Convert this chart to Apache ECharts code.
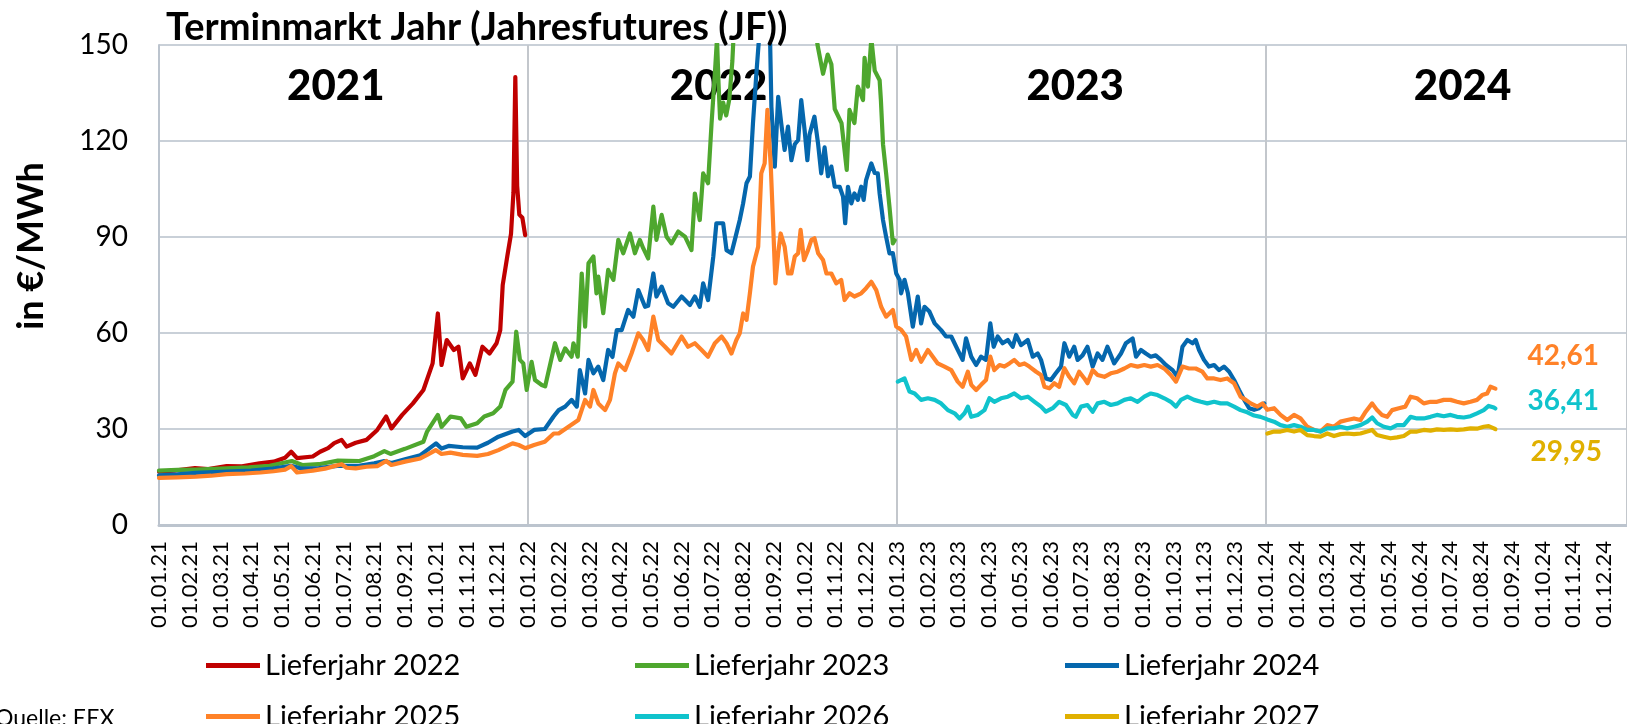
<!DOCTYPE html>
<html><head><meta charset="utf-8">
<script src="https://cdn.jsdelivr.net/npm/echarts@6/dist/echarts.min.js"></script>
<style>html,body{margin:0;padding:0;background:#fff}#c{width:1627px;height:724px}</style>
</head><body><div id="c"></div>
<script>
// ---- tick labels / categories ----
const years = ['2021', '2022', '2023', '2024'];
const monthNums = ['01','02','03','04','05','06','07','08','09','10','11','12'];
const xTickLabels = [];
years.forEach(y => monthNums.forEach(m => xTickLabels.push('01.' + m + '.' + y.slice(2))));
const seriesNames = ['Lieferjahr 2022','Lieferjahr 2023','Lieferjahr 2024','Lieferjahr 2025','Lieferjahr 2026','Lieferjahr 2027'];

// ---- data: [months since 01.01.2021, EUR/MWh] ----
const lj2022 = [[0,16.7],[0.5,17.0],[1.17,17.8],[1.6,17.5],[2.2,18.4],[2.7,18.3],[3.27,19.3],[3.73,19.8],[4.1,21.0],[4.3,22.9],[4.49,20.9],[5.0,21.4],[5.24,22.9],[5.5,24.0],[5.7,25.6],[5.94,26.6],[6.1,24.5],[6.4,25.7],[6.75,26.6],[7.1,29.7],[7.39,33.9],[7.56,30.2],[7.91,34.4],[8.26,38.0],[8.6,42.2],[8.9,50.5],[9.07,66.1],[9.19,50],[9.36,57.8],[9.59,54.7],[9.74,55.7],[9.88,45.8],[10.11,50.5],[10.29,46.9],[10.52,55.7],[10.75,53.6],[10.98,56.8],[11.1,60.9],[11.18,75],[11.33,84],[11.45,91],[11.53,104],[11.59,140],[11.65,106],[11.72,97],[11.82,96],[11.91,90.6]];
const lj2023 = [[0,17.0],[0.6,17.2],[1.2,17.3],[2.0,17.6],[2.92,18.0],[3.6,18.5],[4.32,20.0],[4.66,18.75],[5.2,19.0],[5.82,20.1],[6.52,20.0],[7.0,21.5],[7.33,23.1],[7.53,22.2],[8.0,23.8],[8.6,26.0],[8.72,29.2],[9.07,34.4],[9.19,30.7],[9.48,33.9],[9.82,33.3],[10.0,30.7],[10.35,31.8],[10.58,33.9],[10.87,34.9],[11.1,37.0],[11.27,42.2],[11.5,44.8],[11.62,60.4],[11.74,51.6],[11.85,50.5],[11.96,42.2],[12.12,51],[12.23,45.3],[12.45,43.75],[12.56,43.3],[12.88,56.8],[13.05,51.6],[13.21,55.2],[13.42,52.6],[13.48,56.8],[13.62,52.6],[13.75,78.6],[13.86,62],[13.97,81.8],[14.13,83.9],[14.23,72.4],[14.29,77.6],[14.45,66.2],[14.61,79.7],[14.78,76.6],[14.94,89.1],[15.1,84.9],[15.32,91.1],[15.48,84.9],[15.64,89.1],[15.75,86.5],[15.91,83.3],[16.08,99.5],[16.18,89.1],[16.35,96.9],[16.51,90.1],[16.67,88],[16.89,91.7],[17.11,90.1],[17.32,85.9],[17.43,103.6],[17.59,95.3],[17.7,109.9],[17.86,106.8],[17.97,125],[18.08,141],[18.15,152],[18.2,138],[18.25,127],[18.35,132],[18.45,128],[18.55,133],[18.65,145],[18.75,165],[19.0,220],[19.4,210],[19.8,190],[20.2,200],[20.6,185],[21.0,175],[21.3,160],[21.42,150],[21.6,141],[21.75,147],[21.87,144],[21.98,130],[22.2,125.6],[22.37,111],[22.46,129.7],[22.62,125.6],[22.73,137],[22.9,132.8],[22.95,146],[23.06,137],[23.17,152],[23.28,142],[23.44,139],[23.48,133],[23.55,119],[23.65,110],[23.76,99.5],[23.87,88],[23.93,89]];
const lj2024 = [[0,15.5],[0.6,15.8],[1.2,16.3],[2.0,16.6],[3.0,17.0],[3.7,17.6],[4.3,18.5],[4.66,17.6],[5.2,17.8],[5.8,18.5],[6.5,18.5],[7.0,19.3],[7.33,20.0],[7.56,19.4],[8.0,20.5],[8.5,21.8],[8.72,23.4],[9.01,25.5],[9.19,23.9],[9.42,24.7],[9.88,24.3],[10.35,24.2],[10.7,25.7],[11.04,27.6],[11.5,29.2],[11.7,29.7],[11.91,27.8],[12.2,29.7],[12.55,30.0],[12.84,34],[13.0,35.9],[13.21,37],[13.42,39.1],[13.59,37],[13.69,48.4],[13.86,41.1],[13.97,51.6],[14.13,47.4],[14.29,49.5],[14.45,45.3],[14.61,54.7],[14.75,52.5],[14.89,60.9],[15.05,60.9],[15.26,67.2],[15.43,65.1],[15.59,73.4],[15.81,68.2],[15.91,68.5],[16.08,78.6],[16.18,71.4],[16.35,74.5],[16.56,69.3],[16.73,68.2],[17.0,71.4],[17.27,68.75],[17.43,71.4],[17.59,68.2],[17.7,75.5],[17.86,70.3],[18.03,83.9],[18.13,94.3],[18.35,94.3],[18.46,85.9],[18.62,84.9],[18.73,89.1],[18.89,95.3],[19.0,100.5],[19.11,106.8],[19.22,108.9],[19.32,125.5],[19.43,141],[19.54,155],[19.7,175],[19.87,155],[19.92,130.7],[20.03,112],[20.14,133.8],[20.24,125.5],[20.35,117.2],[20.46,124.5],[20.57,114],[20.68,119],[20.79,120.3],[20.89,132.8],[21.0,123.4],[21.09,114],[21.16,122],[21.32,127.6],[21.44,119],[21.54,109.9],[21.65,118],[21.76,109],[21.87,112],[21.98,105.7],[22.14,105.7],[22.25,102.6],[22.32,94.3],[22.41,105.7],[22.52,100.5],[22.62,103.6],[22.73,101.6],[22.84,105.7],[22.92,101.6],[23.0,107.8],[23.17,113],[23.28,110],[23.38,109.9],[23.44,103.6],[23.55,95.3],[23.65,90.1],[23.76,84.9],[23.87,85],[23.98,78.6],[24.09,76.6],[24.14,72.4],[24.25,76.6],[24.36,72.4],[24.52,62],[24.68,71.4],[24.79,63],[24.9,68.2],[25.06,66.7],[25.23,63],[25.44,60.9],[25.6,58.9],[25.77,58.9],[25.98,54.7],[26.14,51.6],[26.25,58.3],[26.42,52.6],[26.58,50],[26.74,52.6],[26.9,51.6],[27.04,63],[27.15,55.7],[27.28,58.9],[27.44,56.8],[27.61,57.8],[27.77,55.7],[27.88,59.4],[28.04,56.2],[28.26,57.8],[28.42,52.6],[28.58,53.6],[28.69,51.6],[28.85,45.8],[29.01,45.3],[29.17,47.4],[29.34,49.5],[29.45,56.8],[29.61,52.6],[29.77,55.7],[29.88,51.6],[30.04,53],[30.2,55.7],[30.37,49.5],[30.53,53.6],[30.69,51.6],[30.85,55.7],[31.07,50.5],[31.29,53.6],[31.45,56.8],[31.67,58.3],[31.78,52.6],[31.94,54.7],[32.1,53.6],[32.26,52.6],[32.42,53],[32.59,51.6],[32.75,50],[32.97,48.4],[33.13,46.3],[33.29,55.7],[33.45,57.8],[33.62,56.8],[33.72,57.8],[33.83,54.7],[33.99,51.6],[34.15,49.5],[34.32,50],[34.48,48.4],[34.64,49.5],[34.81,47.9],[34.97,45.3],[35.13,42.2],[35.3,39.1],[35.46,36.5],[35.62,36],[35.78,36.5],[35.95,38]];
const lj2025 = [[0,14.7],[0.6,14.9],[1.2,15.1],[1.7,15.4],[2.2,15.9],[2.8,16.1],[3.3,16.4],[3.73,16.8],[4.1,17.3],[4.3,18.4],[4.49,16.4],[5.0,17.0],[5.4,17.6],[5.7,18.4],[5.94,19.0],[6.1,17.9],[6.4,17.7],[6.75,18.2],[7.1,18.4],[7.39,20.0],[7.56,18.75],[8.0,19.8],[8.5,20.8],[8.72,21.9],[9.0,23.4],[9.19,22.2],[9.48,22.6],[9.88,21.9],[10.35,21.6],[10.7,22.2],[11.04,23.4],[11.5,25.5],[11.7,25],[11.91,24],[12.2,25],[12.55,26],[12.84,28.6],[13.0,28.6],[13.32,30.7],[13.64,32.8],[13.86,39.1],[14.02,37],[14.13,42.2],[14.29,38],[14.51,35.9],[14.67,39.1],[14.83,47.4],[14.94,50.5],[15.16,48.4],[15.37,53.6],[15.59,59.9],[15.75,57.8],[15.91,54.7],[16.08,65.1],[16.24,57.8],[16.46,55.7],[16.67,53.6],[17.0,58.9],[17.21,55.7],[17.43,56.8],[17.65,54.7],[17.86,52.6],[18.08,56.8],[18.3,58.9],[18.46,56.8],[18.62,53.6],[18.78,57.8],[18.89,59.9],[19.0,66.1],[19.11,64.1],[19.22,72.4],[19.32,80.7],[19.49,87],[19.59,109.9],[19.7,113],[19.79,129.7],[19.9,112],[19.97,95.3],[20.05,75.5],[20.14,84.9],[20.22,91.1],[20.35,87],[20.46,78.6],[20.57,78.6],[20.68,83.9],[20.79,84.9],[20.87,92.2],[20.98,82.8],[21.11,85.9],[21.22,89.1],[21.32,89.6],[21.44,84.9],[21.6,82.8],[21.71,78.6],[21.87,78.6],[22.03,75.5],[22.19,76.6],[22.3,70.3],[22.46,72.4],[22.62,71.4],[22.84,72.4],[23.0,74],[23.17,76],[23.33,73.4],[23.49,68.2],[23.65,65.1],[23.71,65.1],[23.87,67.2],[23.98,62],[24.14,61],[24.3,58.9],[24.47,51.6],[24.63,54.7],[24.79,51],[25.01,54.7],[25.17,52.6],[25.33,50.5],[25.55,49.5],[25.77,48.4],[25.98,44.8],[26.14,43.2],[26.31,47.9],[26.42,43.8],[26.58,42.2],[26.74,43.8],[26.9,45.3],[27.04,52.6],[27.17,48.4],[27.34,50],[27.5,49.5],[27.66,50.5],[27.82,51.6],[27.99,50],[28.15,50.5],[28.31,49.5],[28.53,47.9],[28.69,46.9],[28.8,43.2],[28.96,42.7],[29.12,44.3],[29.28,43.2],[29.45,49],[29.61,46.3],[29.77,44.3],[29.93,47.9],[30.1,45.8],[30.2,44.3],[30.37,48.4],[30.53,46.9],[30.75,46.3],[30.96,47.4],[31.18,47.9],[31.4,48.9],[31.61,50],[31.83,49.5],[32.05,50],[32.26,49.5],[32.48,50],[32.7,48.9],[32.91,46.9],[33.08,44.8],[33.29,49.5],[33.5,48.9],[33.72,48.9],[33.94,47.9],[34.1,45.8],[34.32,45.8],[34.53,45.3],[34.75,45.8],[34.97,44.3],[35.18,40.1],[35.35,39.1],[35.51,38],[35.73,37],[35.89,38],[36.05,36],[36.27,36.5],[36.48,34.4],[36.7,32.8],[36.92,34.4],[37.13,33.3],[37.35,30.7],[37.57,29.7],[37.78,29.2],[38.0,31.2],[38.22,30.7],[38.43,32.3],[38.65,32.8],[38.87,33.3],[39.08,32.8],[39.25,35.4],[39.46,38],[39.62,35.9],[39.78,34.4],[39.95,33.8],[40.11,35.9],[40.33,36.5],[40.54,37],[40.71,40.1],[40.92,39.6],[41.14,38],[41.36,38.5],[41.57,38.5],[41.79,39.1],[42.01,39.1],[42.22,38.5],[42.44,38],[42.66,38.5],[42.87,39.1],[43.04,40.6],[43.2,41.1],[43.31,43.2],[43.47,42.61]];
const lj2026 = [[24.03,44.8],[24.25,45.8],[24.41,41.7],[24.58,41.1],[24.79,39.1],[25.01,39.6],[25.23,39.1],[25.44,38],[25.66,35.9],[25.88,34.9],[26.04,33.3],[26.2,34.9],[26.31,37],[26.42,33.8],[26.63,34.4],[26.85,35.9],[27.01,39.6],[27.17,38.5],[27.39,39.6],[27.61,40.1],[27.82,41.1],[28.04,39.6],[28.26,40.1],[28.48,38.5],[28.69,37],[28.85,35.4],[29.07,36.5],[29.28,38.5],[29.5,37.5],[29.72,34.4],[29.82,33.8],[29.99,37],[30.2,37.5],[30.37,35.4],[30.53,38],[30.75,38.5],[30.96,37.5],[31.18,38],[31.4,39.1],[31.61,39.6],[31.83,38.5],[32.05,40.1],[32.26,41.1],[32.48,40.6],[32.7,39.6],[32.91,38.5],[33.08,37],[33.24,39.1],[33.45,40.1],[33.67,39.1],[33.89,38.5],[34.1,38],[34.32,38.5],[34.53,38],[34.75,38],[34.97,37],[35.18,35.9],[35.4,35.2],[35.62,34.2],[35.83,33.8],[36.05,33],[36.27,32.3],[36.48,31.2],[36.7,30.7],[36.92,31.2],[37.13,30.7],[37.35,29.7],[37.57,29.7],[37.78,29.2],[38.0,30.2],[38.22,30.2],[38.43,30.7],[38.65,30.2],[38.87,30.7],[39.08,31.2],[39.3,32.3],[39.46,33.6],[39.62,31.8],[39.84,30.7],[40.06,30.2],[40.27,31.2],[40.49,31.2],[40.71,33.8],[40.92,33.3],[41.14,33.3],[41.36,33.8],[41.57,34.4],[41.79,34],[42.01,34.4],[42.22,33.8],[42.44,33.6],[42.66,34],[42.87,34.9],[43.09,35.9],[43.25,37.2],[43.42,36.7],[43.47,36.41]];
const lj2027 = [[36.05,28.6],[36.27,29.2],[36.48,29.2],[36.7,29.7],[36.92,29.2],[37.13,29.7],[37.35,28.1],[37.57,27.8],[37.78,27.6],[38.0,28.6],[38.22,27.8],[38.43,28.4],[38.65,28.6],[38.87,28.4],[39.08,28.6],[39.3,29.2],[39.46,29.7],[39.62,28.1],[39.84,27.6],[40.06,27.1],[40.27,27.4],[40.49,27.8],[40.71,29.2],[40.92,29.2],[41.14,29.7],[41.36,29.5],[41.57,29.9],[41.79,29.7],[42.01,29.9],[42.22,29.7],[42.44,29.9],[42.66,30.2],[42.87,30.1],[43.09,30.7],[43.25,30.9],[43.42,30.2],[43.47,29.95]];

// ---- styles / layout ----
const FONT = 'Lato';
const colors = ['#c00000', '#4ea72e', '#0567ad', '#ff8228', '#10c3cc', '#e0b000'];
const allData = [lj2022, lj2023, lj2024, lj2025, lj2026, lj2027];
const endOffsets = [null, null, null, [24, -33], [24, -8], [27, 23]];
const yearLabelAt = [5.75, 18.2, 29.8, 42.4];   // label anchor (months) inside each year band
const legendLeft = [201, 630, 1060];
const legendTop = [646, 697];

const chart = echarts.init(document.getElementById('c'), null, {renderer: 'canvas'});

const lineSeries = allData.map((d, i) => ({
  type: 'line', name: seriesNames[i], data: d, xAxisIndex: 0, yAxisIndex: 0,
  showSymbol: false, symbol: 'none', clip: true, z: 3,
  lineStyle: {color: colors[i], width: 4.2, join: 'round', cap: 'round'},
  itemStyle: {color: colors[i]},
  endLabel: endOffsets[i] ? {
    show: true, offset: endOffsets[i], color: colors[i], fontFamily: FONT,
    fontWeight: 'bold', fontSize: 28,
    formatter: p => p.value[1].toFixed(2).replace('.', ',')
  } : {show: false}
}));

const yearLabelSeries = {
  type: 'scatter', xAxisIndex: 0, yAxisIndex: 0, symbolSize: 1, z: 1, silent: true,
  itemStyle: {opacity: 0},
  data: years.map((y, i) => ({name: y, value: [yearLabelAt[i], 137]})),
  label: {show: true, position: 'inside', formatter: p => p.name, color: '#000', opacity: 1,
    fontFamily: FONT, fontWeight: 900, fontSize: 42, textBorderWidth: 0}
};

const legends = seriesNames.map((n, i) => ({
  data: [n], left: legendLeft[i % 3], top: legendTop[Math.floor(i / 3)],
  icon: 'rect', itemWidth: 54, itemHeight: 5, selectedMode: false,
  textStyle: {fontFamily: FONT, fontSize: 29, color: '#000'}
}));

chart.setOption({
  animation: false,
  backgroundColor: '#fff',
  title: {text: 'Terminmarkt Jahr (Jahresfutures (JF))', left: 161, top: 4,
    textStyle: {fontFamily: FONT, fontWeight: 'bold', fontSize: 38, color: '#000'}},
  grid: {left: 159, right: -3, top: 45, bottom: 199},
  legend: legends,
  xAxis: [{
    type: 'value', min: 0, max: 47.75, interval: 1,
    axisLine: {show: true, onZero: false, lineStyle: {color: '#bcc4ce', width: 3}},
    axisTick: {show: false}, splitLine: {show: false},
    axisLabel: {rotate: 90, margin: 16, fontFamily: FONT, fontSize: 22, color: '#000',
      showMaxLabel: false,
      formatter: v => (Number.isInteger(v) && xTickLabels[v]) ? xTickLabels[v] : ''}
  }, {
    type: 'value', min: 0, max: 47.75, interval: 12,
    axisLine: {show: false}, axisTick: {show: false}, axisLabel: {show: false},
    splitLine: {show: true, lineStyle: {color: '#c3c7cc', width: 2}}
  }],
  yAxis: {
    type: 'value', min: 0, max: 150, interval: 30,
    axisLine: {show: true, lineStyle: {color: '#bcc4ce', width: 2}},
    axisTick: {show: false},
    splitLine: {show: true, lineStyle: {color: '#c9d0d8', width: 2}},
    axisLabel: {margin: 31, fontFamily: FONT, fontSize: 28, color: '#000'}
  },
  graphic: [
    {type: 'text', x: 31, y: 246, rotation: Math.PI / 2,
      style: {text: 'in €/MWh', font: 'bold 36px Lato', fill: '#000', align: 'center', verticalAlign: 'middle'}},
    {type: 'text', x: -5, y: 707,
      style: {text: 'Quelle: EEX', font: '23px Lato', fill: '#000'}}
  ],
  series: [yearLabelSeries].concat(lineSeries)
});
</script>
</body></html>
